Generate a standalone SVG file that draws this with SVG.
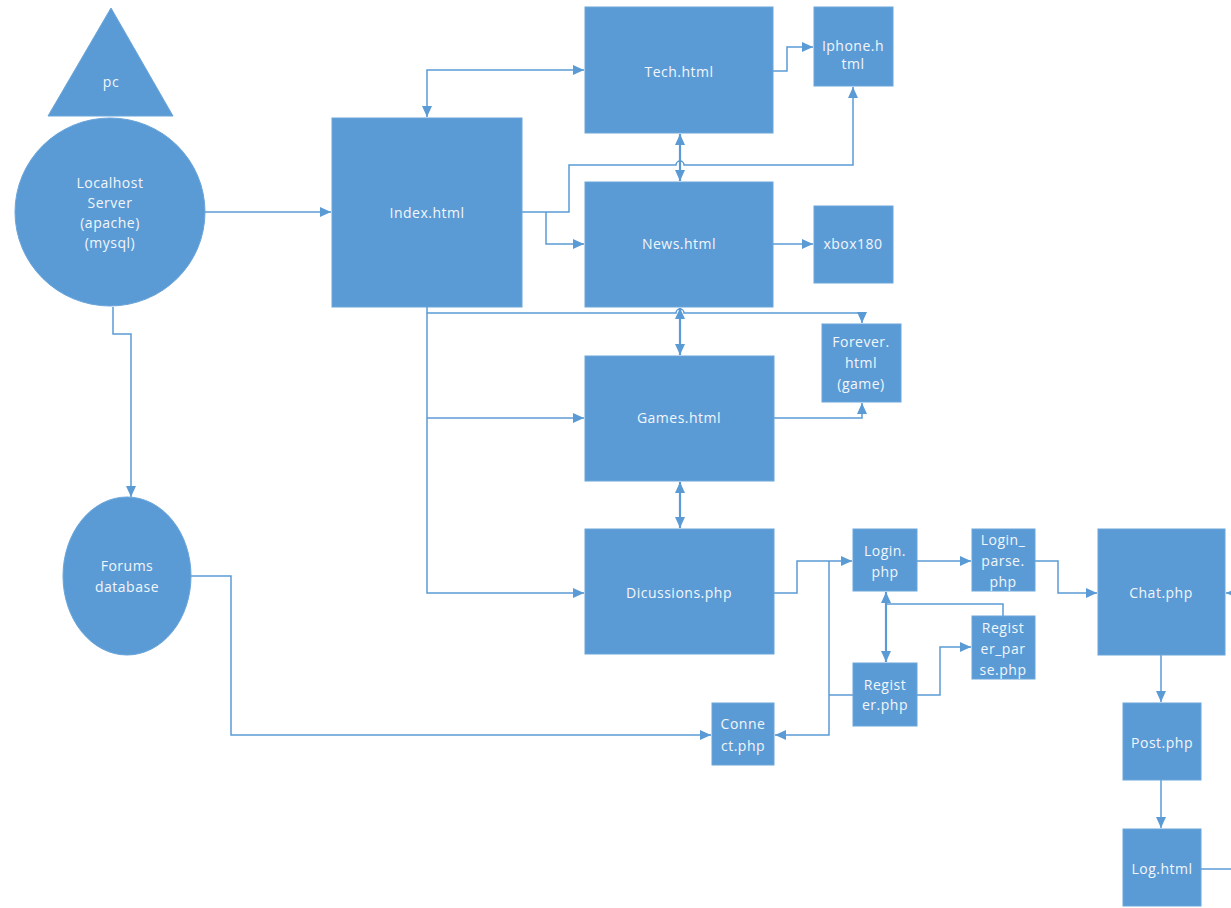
<svg xmlns="http://www.w3.org/2000/svg" width="1231" height="908" viewBox="0 0 1231 908">
<defs>
<marker id="ah" markerUnits="userSpaceOnUse" markerWidth="12" markerHeight="10" refX="11" refY="5" orient="auto-start-reverse"><path d="M0,0 L11,5 L0,10 Z" fill="#5B9BD5"/></marker>
</defs>
<style>
.n{fill:#5B9BD5;stroke:#6aa5da;stroke-width:1}
.t{font-family:"Open Sans","Noto Sans",sans-serif;font-size:14px;letter-spacing:0.5px;fill:#F2F6FB;text-anchor:middle}
.c{fill:none;stroke:#5B9BD5;stroke-width:1.5}
.c2{fill:none;stroke:#5B9BD5;stroke-width:2.2}
.a{marker-end:url(#ah)}
.b{marker-start:url(#ah);marker-end:url(#ah)}
</style>
<rect width="1231" height="908" fill="#ffffff"/>
<g id="connectors">
<path class="c a" d="M205,212 L331,212"/>
<path class="c a" d="M113,307 L113,334 L131,334 L131,497"/>
<path class="c a" d="M191,576 L231,576 L231,735 L711,735"/>
<path class="c b" d="M427,117 L427,70 L584,70"/>
<path class="c a" d="M522,212 L569,212 L569,165 L676,165 A4,4 0 0 1 684,165 L853,165 L853,87"/>
<path class="c a" d="M546,212 L546,244 L584,244"/>
<path class="c2 b" d="M680,134 L680,181"/>
<path class="c a" d="M773,71 L787,71 L787,47 L813,47"/>
<path class="c a" d="M773,244 L813,244"/>
<path class="c a" d="M427,307 L427,593 L584,593"/>
<path class="c a" d="M427,418 L584,418"/>
<path class="c a" d="M427,313 L676,313 A4,4 0 0 1 684,313 L862,313 L862,323"/>
<path class="c2 b" d="M680,308 L680,355"/>
<path class="c a" d="M774,418 L862,418 L862,403"/>
<path class="c2 b" d="M680,482 L680,528"/>
<path class="c a" d="M774,593 L797,593 L797,561 L852,561"/>
<path class="c a" d="M829,561 L829,735 L775,735"/>
<path class="c" d="M853,695 L829,695"/>
<path class="c a" d="M917,561 L971,561"/>
<path class="c a" d="M1035,561 L1058,561 L1058,593 L1097,593"/>
<path class="c2 b" d="M886,592 L886,662"/>
<path class="c" d="M1003,616 L1003,604 L886,604"/>
<path class="c a" d="M917,695 L940,695 L940,647 L971,647"/>
<path class="c a" d="M1161,655 L1161,702"/>
<path class="c a" d="M1161,780 L1161,828"/>
<path class="c a" d="M1235,593 L1226,593"/>
<path class="c" d="M1201,869 L1231,869"/>
</g>
<g id="pc"><polygon class="n" points="111,8 173,116 48,116"/><text class="t" x="111" y="87">pc</text></g>
<g id="localhost"><ellipse class="n" cx="110" cy="212" rx="95" ry="94"/>
<text class="t" x="110" y="188">Localhost</text><text class="t" x="110" y="208">Server</text><text class="t" x="110" y="228">(apache)</text><text class="t" x="110" y="248">(mysql)</text></g>
<g id="forums"><ellipse class="n" cx="127" cy="576" rx="64" ry="79"/>
<text class="t" x="127" y="571">Forums</text><text class="t" x="127" y="592">database</text></g>
<g id="index"><rect class="n" x="332" y="118" width="190" height="189"/><text class="t" x="427" y="218">Index.html</text></g>
<g id="tech"><rect class="n" x="585" y="7" width="188" height="126"/><text class="t" x="679" y="77">Tech.html</text></g>
<g id="iphone"><rect class="n" x="814" y="7" width="79" height="79"/><text class="t" x="853" y="51">Iphone.h</text><text class="t" x="853" y="69">tml</text></g>
<g id="news"><rect class="n" x="585" y="182" width="188" height="125"/><text class="t" x="679" y="249">News.html</text></g>
<g id="xbox"><rect class="n" x="814" y="206" width="79" height="77"/><text class="t" x="853" y="249">xbox180</text></g>
<g id="forever"><rect class="n" x="822" y="324" width="79" height="78"/><text class="t" x="861" y="347">Forever.</text><text class="t" x="861" y="368">html</text><text class="t" x="861" y="389">(game)</text></g>
<g id="games"><rect class="n" x="585" y="356" width="189" height="125"/><text class="t" x="679" y="423">Games.html</text></g>
<g id="discussions"><rect class="n" x="585" y="529" width="189" height="125"/><text class="t" x="679" y="598">Dicussions.php</text></g>
<g id="connect"><rect class="n" x="712" y="703" width="62" height="62"/><text class="t" x="743" y="729">Conne</text><text class="t" x="743" y="751">ct.php</text></g>
<g id="login"><rect class="n" x="853" y="529" width="64" height="62"/><text class="t" x="885" y="556">Login.</text><text class="t" x="885" y="577">php</text></g>
<g id="loginparse"><rect class="n" x="972" y="529" width="63" height="62"/><text class="t" x="1003" y="545">Login_</text><text class="t" x="1003" y="566">parse.</text><text class="t" x="1003" y="587">php</text></g>
<g id="registerparse"><rect class="n" x="972" y="616" width="63" height="63"/><text class="t" x="1003" y="633">Regist</text><text class="t" x="1003" y="654">er_par</text><text class="t" x="1003" y="675">se.php</text></g>
<g id="register"><rect class="n" x="853" y="663" width="64" height="63"/><text class="t" x="885" y="690">Regist</text><text class="t" x="885" y="710">er.php</text></g>
<g id="chat"><rect class="n" x="1098" y="529" width="127" height="126"/><text class="t" x="1161" y="598">Chat.php</text></g>
<g id="post"><rect class="n" x="1123" y="703" width="78" height="77"/><text class="t" x="1162" y="748">Post.php</text></g>
<g id="log"><rect class="n" x="1123" y="829" width="78" height="77"/><text class="t" x="1162" y="874">Log.html</text></g>
</svg>
